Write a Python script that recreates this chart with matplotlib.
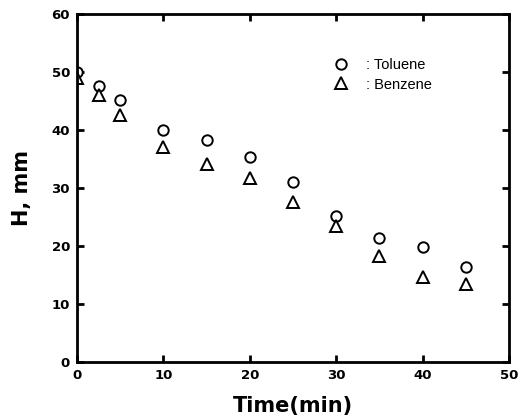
import matplotlib.pyplot as plt

plt.rcParams['font.family'] = ['Liberation Sans', 'DejaVu Sans']

time = [0, 2.5, 5, 10, 15, 20, 25, 30, 35, 40, 45]
toluene = [50.0, 47.6, 45.2, 40.0, 38.2, 35.3, 31.1, 25.2, 21.3, 19.8, 16.3]
benzene = [49.0, 46.0, 42.6, 37.1, 34.2, 31.8, 27.6, 23.5, 18.2, 14.6, 13.4]

fig = plt.figure(figsize=(5.26, 4.17), dpi=100)
ax = fig.add_axes([0.1464, 0.1319, 0.8213, 0.8345])

ax.plot(time, toluene, linestyle='none', marker='o', markersize=7.5,
        markerfacecolor='white', markeredgecolor='black', markeredgewidth=1.4,
        label=': Toluene')
ax.plot(time, benzene, linestyle='none', marker='^', markersize=8,
        markerfacecolor='white', markeredgecolor='black', markeredgewidth=1.4,
        label=': Benzene')

ax.set_xlim(0, 50)
ax.set_ylim(0, 60)
ax.set_xticks(range(0, 51, 10))
ax.set_yticks(range(0, 61, 10))

for s in ax.spines.values():
    s.set_linewidth(2)
ax.tick_params(direction='in', length=5, width=2, top=True, right=True,
               labelsize=9.5, pad=5)
for lbl in ax.get_xticklabels() + ax.get_yticklabels():
    lbl.set_fontweight('bold')
    lbl.set_family('DejaVu Sans')

ax.set_xlabel('Time(min)', fontsize=15, fontweight='bold', labelpad=10,
              family='DejaVu Sans')
ax.set_ylabel('H, mm', fontsize=15, fontweight='bold', labelpad=14,
              family='DejaVu Sans')

leg = ax.legend(loc='upper left', bbox_to_anchor=(0.56, 0.91), frameon=False,
                handletextpad=1.1, fontsize=10.5, labelspacing=0.35,
                handlelength=1.2)

fig.savefig('out.png', dpi=100)
